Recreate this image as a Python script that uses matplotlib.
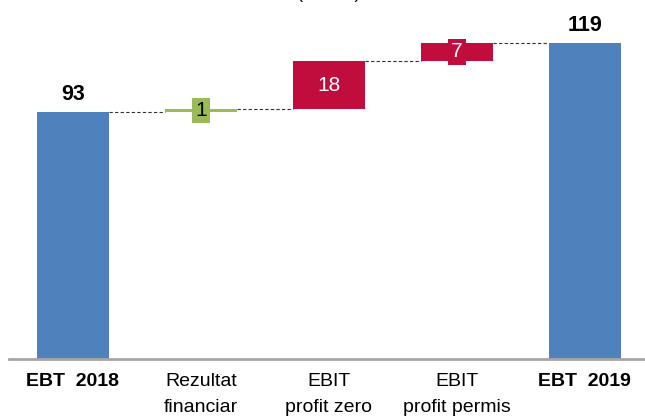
import matplotlib.pyplot as plt

plt.rcParams["font.family"] = ["Liberation Sans", "DejaVu Sans"]

categories = ["EBT  2018", "Rezultat\nfinanciar", "EBIT\nprofit zero", "EBIT\nprofit permis", "EBT  2019"]
deltas = [93, 1, 18, 7, 119]
kinds = ["total", "delta", "delta", "delta", "total"]
delta_colors = {1: "#9BBB59", 2: "#C00D3E", 3: "#C00D3E"}

blue = "#4F81BD"

fig = plt.figure(figsize=(6.45, 4.18), dpi=100)
ax = fig.add_axes([9 / 645, 1 - 359 / 418, 1 - 9 / 645, 359 / 418])

width = 0.5625
running = 0
tops = []
for i, (val, kind) in enumerate(zip(deltas, kinds)):
    if kind == "total":
        ax.bar(i, val, width=width, color=blue, zorder=2)
        running = val
        ax.annotate(str(val), (i, val), xytext=(0, 5), textcoords="offset points",
                    ha="center", va="bottom", fontsize=15.5, fontweight="bold")
    else:
        color = delta_colors[i]
        ax.bar(i, val, bottom=running, width=width, color=color, zorder=2)
        mid = running + val / 2
        txt_color = "black" if i == 1 else "white"
        if val >= 10:
            ax.text(i, mid, str(val), ha="center", va="center", fontsize=15, color=txt_color, zorder=3)
        else:
            ax.text(i, mid, str(val), ha="center", va="center", fontsize=15, color=txt_color, zorder=3,
                    bbox=dict(boxstyle="square,pad=0.16", facecolor=color, edgecolor="none"))
        running += val
    tops.append(running)

# connector lines between bars
for i in range(len(deltas) - 1):
    ax.plot([i + width / 2, i + 1 - width / 2], [tops[i], tops[i]],
            linestyle=(0, (3, 2)), color="#333333", linewidth=0.8, zorder=1)

ax.set_xlim(-0.5, 4.47)
ax.set_ylim(0, 135)
ax.set_yticks([])
ax.set_xticks(range(len(categories)))
ax.set_xticklabels(categories, fontsize=14, linespacing=1.7)
for lbl, kind in zip(ax.get_xticklabels(), kinds):
    if kind == "total":
        lbl.set_fontweight("bold")
ax.tick_params(axis="x", length=0, pad=10)
for side in ["top", "left", "right"]:
    ax.spines[side].set_visible(False)
ax.spines["bottom"].set_color("#A6A6A6")
ax.spines["bottom"].set_linewidth(2)

fig.text(0.51, 1 + 2 / 418, "(mil. lei)", ha="center", va="baseline", fontsize=13)

fig.savefig("out.png", dpi=100)
